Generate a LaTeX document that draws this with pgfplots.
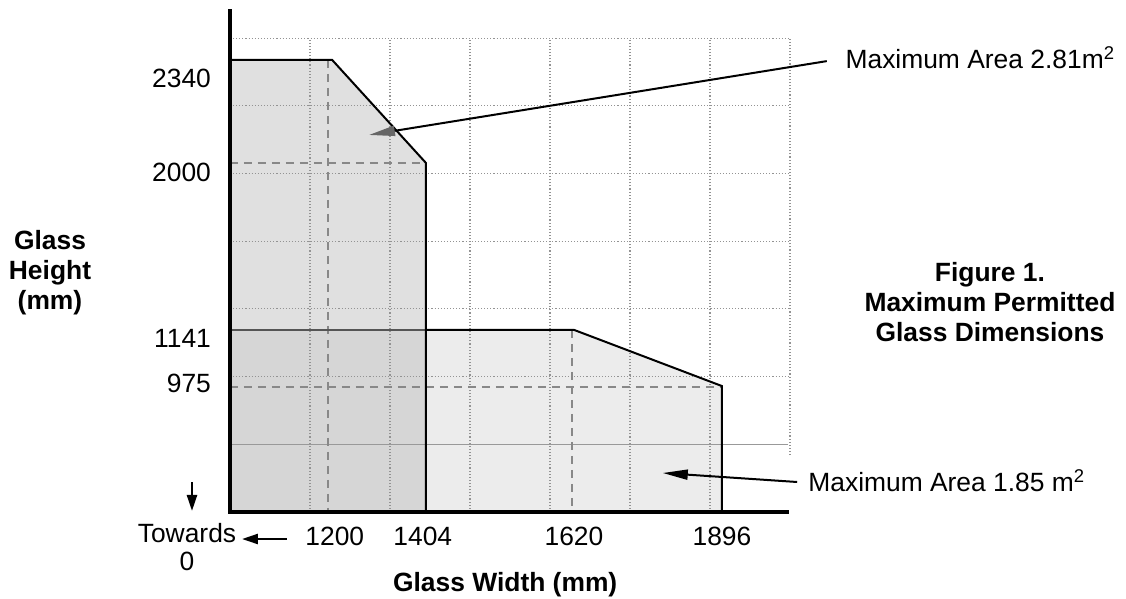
\documentclass[border=0pt]{standalone}
\usepackage{pgfplots}
\pgfplotsset{compat=1.18}
\usepackage{fontspec}
\setmainfont{Liberation Sans}
\usetikzlibrary{arrows.meta}

\definecolor{fillA}{HTML}{E0E0E0}
\definecolor{fillB}{HTML}{ECECEC}
\definecolor{fillAB}{HTML}{D6D6D6}
\definecolor{dashgray}{HTML}{888888}
\definecolor{edgegray}{HTML}{555555}
\newcommand\fs{\fontsize{13.2}{15}\selectfont}

\tikzset{
  gridst/.style={densely dotted, gray!85, line width=0.55pt},
  dashst/.style={dashgray, line width=0.9pt, dash pattern=on 4pt off 3pt},
}

\begin{document}
\begin{tikzpicture}
\begin{axis}[
    anchor=origin, at={(0pt,0pt)},
    x=40pt, y=33.85pt,
    xmin=0, xmax=6.97, ymin=0, ymax=7.4,
    axis x line*=bottom, axis y line*=left,
    axis line style={line width=1.9pt, -},
    axis on top,
    clip=false,
    major tick length=0pt,
    xtick={1.31,2.41,4.3,6.15},
    xticklabels={1200,1404,1620,1896},
    ytick={1.905,2.56,5.02,6.41},
    yticklabels={975,1141,2000,2340},
    tick label style={font=\fs},
    xticklabel style={yshift=-4pt},
    yticklabel style={xshift=-6pt},
  ]
  % permitted areas
  \addplot[draw=none, fill=fillB] coordinates {(0,0) (0,2.69) (4.3,2.69) (6.15,1.86) (6.15,0)} -- cycle;
  \addplot[draw=none, fill=fillA] coordinates {(0,0) (0,6.68) (1.275,6.68) (2.45,5.155) (2.45,0)} -- cycle;
  \addplot[draw=none, fill=fillAB] coordinates {(0,0) (0,2.69) (2.45,2.69) (2.45,0)} -- cycle;

  % grid
  \pgfplotsinvokeforeach{1,2,3,4,5,6}{
    \draw[gridst] (axis cs:#1,0) -- (axis cs:#1,7);
  }
  \draw[gridst] (axis cs:7,0.84) -- (axis cs:7,7);
  \pgfplotsinvokeforeach{2,3,4,5,6,7}{
    \draw[gridst] (axis cs:0,#1) -- (axis cs:7,#1);
  }
  \draw[gray!80, line width=0.7pt] (axis cs:0,1) -- (axis cs:6.97,1);

  % guide lines
  \addplot[dashst] coordinates {(1.225,6.68) (1.225,0)};
  \addplot[dashst] coordinates {(0,5.155) (2.45,5.155)};
  \addplot[dashst] coordinates {(4.275,2.69) (4.275,0)};
  \addplot[dashst] coordinates {(0,1.85) (6.15,1.85)};

  % outlines
  \addplot[edgegray, line width=1pt] coordinates {(0,2.69) (2.45,2.69)};
  \addplot[black, line width=1pt] coordinates {(2.45,2.69) (4.3,2.69) (6.15,1.86) (6.15,0)};
  \addplot[black, line width=1pt] coordinates {(0,6.68) (1.275,6.68) (2.45,5.155) (2.45,0)};

  % axis lines, drawn heavy as in the reference
  \draw[line width=1.9pt, line cap=rect] (axis cs:0,7.4) -- (axis cs:0,0) -- (axis cs:6.97,0);

  % annotations
  \draw[line width=1pt, -{Triangle[length=13pt,width=5pt,color=black!60]}]
    (axis cs:7.46,6.66) -- (axis cs:1.7375,5.569);
  \node[anchor=west, font=\fs, inner sep=0pt] at (axis cs:7.69,6.71)
    {Maximum Area 2.81m\textsuperscript{2}};
  \draw[line width=1pt, -{Triangle[length=12.5pt,width=5pt]}]
    (axis cs:7.09,0.443) -- (axis cs:5.41,0.576);
  \node[anchor=west, font=\fs, inner sep=0pt] at (axis cs:7.225,0.46)
    {Maximum Area 1.85 m\textsuperscript{2}};

  \node[align=center, font=\fs\bfseries] at (axis cs:9.5,3.1)
    {Figure 1.\\Maximum Permitted\\Glass Dimensions};
  \node[align=center, font=\fs\bfseries] at (axis cs:-2.25,3.53)
    {Glass\\Height\\(mm)};
  \node[font=\fs\bfseries] at (axis cs:3.44,-1.08) {Glass Width (mm)};

  \node[align=center, font=\fontsize{13.2}{14}\selectfont, inner sep=0pt]
    at (axis cs:-0.5375,-0.517) {Towards\\0};
  \draw[line width=1.2pt, -{Triangle[length=8pt,width=5pt]}]
    (axis cs:0.7125,-0.399) -- (axis cs:0.15,-0.399);
  \draw[line width=1.2pt, -{Triangle[length=8pt,width=5pt]}]
    (axis cs:-0.475,0.44) -- (axis cs:-0.475,0.015);
\end{axis}
\pgfresetboundingbox
\path[use as bounding box] (-115pt,-43.5pt) rectangle (448pt,256pt);
\end{tikzpicture}
\end{document}
